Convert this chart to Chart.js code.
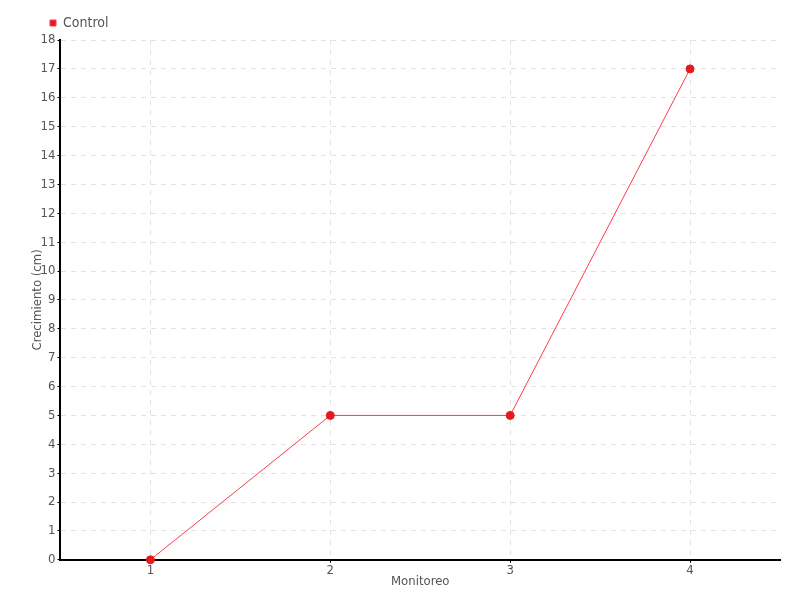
<!DOCTYPE html>
<html>
<head>
<meta charset="utf-8">
<style>
  html, body { margin: 0; padding: 0; background: #fff; }
  #wrap { width: 800px; height: 600px; }
</style>
<script src="https://cdn.jsdelivr.net/npm/chart.js@4"></script>
</head>
<body>
<div id="wrap"><canvas id="chart" width="800" height="600"></canvas></div>
<script>
const monitoreo = ["1", "2", "3", "4"];
const control = [0, 5, 5, 17];
const yTicks = [0, 1, 2, 3, 4, 5, 6, 7, 8, 9, 10, 11, 12, 13, 14, 15, 16, 17, 18];

// condensed look, like the original
Chart.defaults.font.family = "'DejaVu Sans Condensed', 'Liberation Sans Narrow', sans-serif";
Chart.defaults.font.size = 13;
Chart.defaults.color = "#555";

const gridOpts = {
    color: "#e3e3e3",
    tickColor: "#000",
    tickBorderDash: [],
    tickLength: 3
};

// push the legend in line with the plot, as in the original
const legendShift = {
    id: "legendShift",
    beforeDraw(chart) {
        chart.legend.left = 42;
    }
};

const ctx = document.getElementById("chart").getContext("2d");
new Chart(ctx, {
    type: "line",
    data: {
        labels: monitoreo,
        datasets: [{
            label: "Control",
            data: control,
            borderColor: "#ff3b4e",
            backgroundColor: "#e41a1c",
            borderWidth: 1,
            pointRadius: 4,
            pointBackgroundColor: "#e41a1c",
            pointBorderColor: "#e41a1c",
            clip: false,
            tension: 0
        }]
    },
    options: {
        responsive: false,
        animation: false,
        layout: { padding: { left: 30, right: 20, top: 8, bottom: 11 } },
        plugins: {
            legend: {
                align: "start",
                labels: {
                    boxWidth: 6,
                    boxHeight: 6,
                    padding: 8,
                    color: "#555",
                    font: { size: 14 }
                }
            },
            tooltip: { enabled: false }
        },
        scales: {
            x: {
                offset: true,
                title: { display: true, text: "Monitoreo", padding: { top: -5, bottom: 0 } },
                grid: Object.assign({ offset: false }, gridOpts),
                border: { color: "#000", width: 2, dash: [5, 5] },
                ticks: { padding: 0 }
            },
            y: {
                min: 0,
                max: 18,
                afterBuildTicks: axis => { axis.ticks = yTicks.map(v => ({ value: v })); },
                title: { display: true, text: "Crecimiento (cm)", padding: { top: 0, bottom: -7 } },
                grid: gridOpts,
                border: { color: "#000", width: 2, dash: [5, 5] },
                ticks: { padding: 2 }
            }
        }
    },
    plugins: [legendShift]
});
</script>
</body>
</html>
